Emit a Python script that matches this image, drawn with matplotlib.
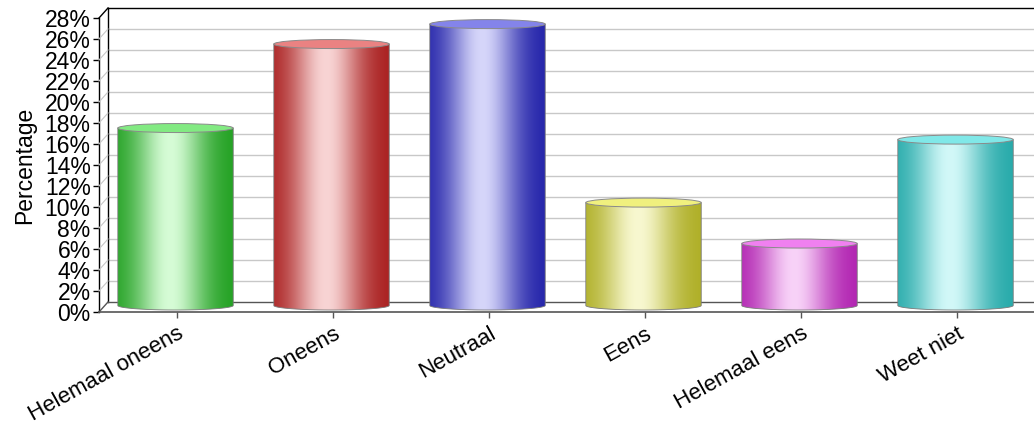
import numpy as np
import matplotlib
matplotlib.use("Agg")
import matplotlib.pyplot as plt
from matplotlib.transforms import offset_copy
from matplotlib.patches import PathPatch, Ellipse
from matplotlib.path import Path
from matplotlib.colors import to_rgb

plt.rcParams['font.family'] = ['Liberation Sans', 'DejaVu Sans']

categories = ["Helemaal oneens", "Oneens", "Neutraal", "Eens", "Helemaal eens", "Weet niet"]
values = [16.9, 24.9, 26.8, 9.8, 5.9, 15.8]
edge_colors = ['#1f9f1f', '#a81c1c', '#2020a8', '#adad22', '#b020b0', '#22a8a8']
mid_colors = ['#d6fcd6', '#f8d4d4', '#d6d6fa', '#f8f8d0', '#f8d2f8', '#d2f8f8']
top_colors = ['#82ea82', '#ea8282', '#8484ea', '#f0f07e', '#f080f0', '#80e8e8']
y_ticks = list(range(0, 29, 2))
y_tick_labels = [f"{t}%" for t in y_ticks]

W, H = 1034, 426
fig = plt.figure(figsize=(W / 100, H / 100), dpi=100)
left_px, right_px, bottom_px, top_px = 99, 1035, 312, 18
ax = fig.add_axes([left_px / W, (H - bottom_px) / H, (right_px - left_px) / W, (bottom_px - top_px) / H])
ax.set_xlim(-0.5, 5.5)
ax.set_ylim(0, 28)
for s in ax.spines.values():
    s.set_visible(False)
ax.set_facecolor('none')

px_per_unit = (bottom_px - top_px) / 28.0
DX, DY = 9, 10  # depth offset in pixels
back = offset_copy(ax.transData, fig=fig, x=DX, y=DY, units='dots')
bar_tr = offset_copy(ax.transData, fig=fig, x=-1.5, y=6.5, units='dots')

# back wall gridlines
for t in y_ticks[1:-1]:
    ax.plot([-0.5, 6.5], [t, t], color='#c8c8c8', lw=1.0, transform=back, clip_on=False, zorder=1)
# side-wall diagonals
for t in y_ticks[1:-1]:
    xs = ax.transData.transform([(-0.5, t)])[0]
    fig.add_artist(plt.Line2D([xs[0] / W, (xs[0] + DX) / W], [xs[1] / H, (xs[1] + DY) / H],
                              color='#c8c8c8', lw=0.8, zorder=1))

# back wall frame
ax.plot([-0.5, 6.5], [28, 28], color='black', lw=1.0, transform=back, clip_on=False, zorder=2)
ax.plot([-0.5, -0.5], [0, 28], color='black', lw=1.0, transform=back, clip_on=False, zorder=2)
ax.plot([-0.5, 6.5], [0, 0], color='#555555', lw=1.0, transform=back, clip_on=False, zorder=2)
for t, c in [(28, 'black'), (0, '#555555')]:
    xs = ax.transData.transform([(-0.5, t)])[0]
    fig.add_artist(plt.Line2D([xs[0] / W, (xs[0] + DX) / W], [xs[1] / H, (xs[1] + DY) / H],
                              color=c, lw=1.0, zorder=2))

# cylinders
bw = 0.74
e = 4.5 / px_per_unit
tt = np.linspace(0, 1, 300)
prof = np.exp(-((tt - 0.45) / 0.3) ** 2)
for i, (v, ec, mc, tc) in enumerate(zip(values, edge_colors, mid_colors, top_colors)):
    x0, x1 = i - bw / 2, i + bw / 2
    th = np.linspace(np.pi, 2 * np.pi, 60)
    arc = np.column_stack([i + bw / 2 * np.cos(th), e * np.sin(th)])
    verts = np.vstack([[x0, v], [x0, 0], arc, [x1, 0], [x1, v], [x0, v]])
    codes = [Path.MOVETO] + [Path.LINETO] * (len(verts) - 2) + [Path.CLOSEPOLY]
    path = Path(verts, codes)
    patch = PathPatch(path, transform=bar_tr, facecolor='none', edgecolor='#7a7a7a', lw=0.6, zorder=4)
    ax.add_patch(patch)
    c_e, c_m = np.array(to_rgb(ec)), np.array(to_rgb(mc))
    grad = c_e[None, :] + (c_m - c_e)[None, :] * prof[:, None]
    img = ax.imshow(grad[None, :, :], extent=(x0, x1, -e, v), transform=bar_tr,
                    aspect='auto', zorder=3, interpolation='bilinear')
    img.set_clip_path(patch)
    top = Ellipse((i, v), bw, 2 * e, transform=bar_tr, facecolor=tc,
                  edgecolor='#8a8a8a', lw=0.7, zorder=5)
    ax.add_patch(top)

ax.set_xlim(-0.5, 5.5)
ax.set_ylim(0, 28)

# front axes lines
ax.plot([-0.5, -0.5], [0, 28], color='black', lw=1.0, clip_on=False, zorder=6)
ax.plot([-0.5, 6.5], [0, 0], color='#555555', lw=1.2, clip_on=False, zorder=6)

ax.set_yticks(y_ticks)
ax.set_yticklabels(y_tick_labels, fontsize=16.5)
ax.set_xticks(range(len(categories)))
ax.set_xticklabels(categories, fontsize=16, rotation=29, ha='right', rotation_mode='anchor')
ax.tick_params(axis='y', length=4, width=1, color='black', pad=2)
ax.tick_params(axis='x', length=4, width=1, color='#555555', pad=4)
ax.set_ylabel('Percentage', fontsize=16.5, labelpad=6)

fig.savefig('out.png', dpi=100)
